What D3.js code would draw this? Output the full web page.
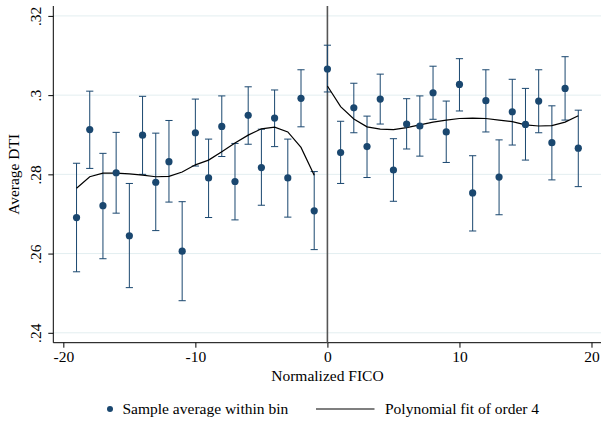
<!DOCTYPE html>
<html>
<head>
<meta charset="utf-8">
<script src="https://cdn.jsdelivr.net/npm/d3@7"></script>
<style>
body { margin: 0; background: #fff; }
</style>
</head>
<body>
<svg id="chart" width="601" height="422"></svg>
<script>
// bins (normalized FICO) and the sample average within each bin
var bins = [-19,-18,-17,-16,-15,-14,-13,-12,-11,-10,-9,-8,-7,-6,-5,-4,-3,-2,-1,0,
	1,2,3,4,5,6,7,8,9,10,11,12,13,14,15,16,17,18,19];
var means = [.2691,.2913,.2721,.2804,.2645,.2899,.2780,.2832,.2606,.2905,.2791,.2921,.2782,.2949,.2817,.2942,.2791,.2992,.2708,.3066,
	.2855,.2968,.2870,.2990,.2811,.2927,.2922,.3006,.2907,.3027,.2753,.2986,.2793,.2958,.2926,.2985,.2880,.3017,.2866];
var upper = [.2828,.3010,.2853,.2906,.2777,.2997,.2904,.2936,.2731,.2990,.2889,.2998,.2878,.3021,.2914,.3013,.2889,.3064,.2807,.3126,
	.2934,.3030,.2947,.3053,.2890,.2991,.2998,.3073,.2985,.3092,.2847,.3064,.2887,.3040,.3017,.3064,.2973,.3097,.2962];
var lower = [.2554,.2815,.2587,.2702,.2514,.2800,.2658,.2730,.2481,.2821,.2691,.2845,.2685,.2876,.2722,.2870,.2692,.2920,.2610,.3008,
	.2777,.2905,.2792,.2927,.2732,.2864,.2846,.2939,.2830,.2960,.2657,.2907,.2698,.2874,.2836,.2905,.2786,.2937,.2769];

// polynomial fit (order 4), one piece each side of the cutoff
var fitLeftX = [-19,-18,-17,-16,-15,-14,-13,-12,-11,-10,-9,-8,-7,-6,-5,-4,-3,-2,-1];
var fitLeftY = [.2765,.2794,.2803,.2803,.2801,.2798,.2794,.2795,.2806,.2824,.2836,.2857,.2879,.2899,.2915,.2919,.2907,.2868,.2798];
var fitRightX = [0,1,2,3,4,5,6,7,8,9,10,11,12,13,14,15,16,17,18,19];
var fitRightY = [.3023,.2971,.2940,.2920,.2914,.2913,.2918,.2925,.2932,.2937,.2941,.2942,.2941,.2937,.2933,.2925,.2922,.2923,.2932,.2948];

var xTicks = [-20,-10,0,10,20];
var yTicks = [.24,.26,.28,.30,.32];
var yTickLabels = [".24",".26",".28",".3",".32"];

var serif = "'Liberation Serif', 'Times New Roman', Times, serif";
var fs = 15.5;
var svg = d3.select("#chart");
var navy = "#1a476f";

var x = d3.scaleLinear().domain([-20.76, 20.72]).range([53.3, 601]);
var y = d3.scaleLinear().domain([.2375, .3225]).range([342.7, 6]);

// grid
svg.append("g").selectAll("line").data(yTicks).enter().append("line")
	.attr("x1", x(-20.76)).attr("x2", x(20.72))
	.attr("y1", function(d){ return y(d); }).attr("y2", function(d){ return y(d); })
	.attr("stroke", "#e3eef0").attr("stroke-width", 1);

// y axis
var yAxis = d3.axisLeft(y).tickValues(yTicks).tickSize(5).tickPadding(4)
	.tickFormat(function(d, i){ return yTickLabels[i]; });
var gy = svg.append("g").attr("transform", "translate(53.3,0)").call(yAxis)
	.attr("font-family", serif).attr("font-size", fs);
gy.select(".domain").attr("d", "M0," + y(.2375) + "V" + y(.3225)).attr("stroke", "#000");
gy.selectAll(".tick line").attr("stroke", "#000");
gy.selectAll(".tick text")
	.attr("fill", "#000")
	.attr("transform", "rotate(-90)")
	.attr("x", 0).attr("y", -18).attr("dy", "0.35em")
	.style("text-anchor", "middle");

// x axis
var xAxis = d3.axisBottom(x).tickValues(xTicks).tickSize(5).tickPadding(3)
	.tickFormat(function(d){ return d < 0 ? "-" + Math.abs(d) : String(d); });
var gx = svg.append("g").attr("transform", "translate(0,342.7)").call(xAxis)
	.attr("font-family", serif).attr("font-size", fs);
gx.select(".domain").attr("d", "M" + x(-20.76) + ",0H" + x(20.72)).attr("stroke", "#000");
gx.selectAll(".tick line").attr("stroke", "#000");
gx.selectAll(".tick text").attr("fill", "#000");

// cutoff line
svg.append("line")
	.attr("x1", x(0)).attr("x2", x(0)).attr("y1", y(.2375)).attr("y2", y(.3225))
	.attr("stroke", "#555").attr("stroke-width", 1.6);

// error bars
var pts = bins.map(function(b, i){ return {x: b, m: means[i], hi: upper[i], lo: lower[i]}; });
var eb = svg.append("g").attr("stroke", navy).attr("stroke-width", 1).attr("fill", "none");
eb.selectAll("line.v").data(pts).enter().append("line").attr("class", "v")
	.attr("x1", function(d){ return x(d.x); }).attr("x2", function(d){ return x(d.x); })
	.attr("y1", function(d){ return y(d.hi); }).attr("y2", function(d){ return y(d.lo); });
eb.selectAll("line.t").data(pts).enter().append("line").attr("class", "t")
	.attr("x1", function(d){ return x(d.x) - 3.6; }).attr("x2", function(d){ return x(d.x) + 3.6; })
	.attr("y1", function(d){ return y(d.hi); }).attr("y2", function(d){ return y(d.hi); });
eb.selectAll("line.b").data(pts).enter().append("line").attr("class", "b")
	.attr("x1", function(d){ return x(d.x) - 3.6; }).attr("x2", function(d){ return x(d.x) + 3.6; })
	.attr("y1", function(d){ return y(d.lo); }).attr("y2", function(d){ return y(d.lo); });

// fit lines
var line = d3.line().x(function(d){ return x(d[0]); }).y(function(d){ return y(d[1]); });
[[fitLeftX, fitLeftY], [fitRightX, fitRightY]].forEach(function(f){
	svg.append("path").datum(d3.zip(f[0], f[1]))
		.attr("d", line).attr("fill", "none").attr("stroke", "#000").attr("stroke-width", 1.2);
});

// points
svg.append("g").selectAll("circle").data(pts).enter().append("circle")
	.attr("cx", function(d){ return x(d.x); }).attr("cy", function(d){ return y(d.m); })
	.attr("r", 3.6).attr("fill", navy);

// titles
var titles = svg.append("g").attr("font-family", serif).attr("font-size", fs).attr("fill", "#000");
titles.append("text").attr("x", x(0)).attr("y", 381).attr("text-anchor", "middle").text("Normalized FICO");
titles.append("text").attr("transform", "translate(19," + y(.28) + ") rotate(-90)")
	.attr("text-anchor", "middle").text("Average DTI");

// legend
var lg = svg.append("g").attr("transform", "translate(0,409)")
	.attr("font-family", serif).attr("font-size", fs).attr("fill", "#000");
lg.append("circle").attr("cx", 110).attr("cy", 0).attr("r", 3).attr("fill", navy);
lg.append("text").attr("x", 122.5).attr("y", 5).text("Sample average within bin");
lg.append("line").attr("x1", 316).attr("x2", 374.5).attr("y1", 0).attr("y2", 0)
	.attr("stroke", "#000").attr("stroke-width", 1.2);
lg.append("text").attr("x", 385).attr("y", 5).text("Polynomial fit of order 4");
</script>
</body>
</html>
